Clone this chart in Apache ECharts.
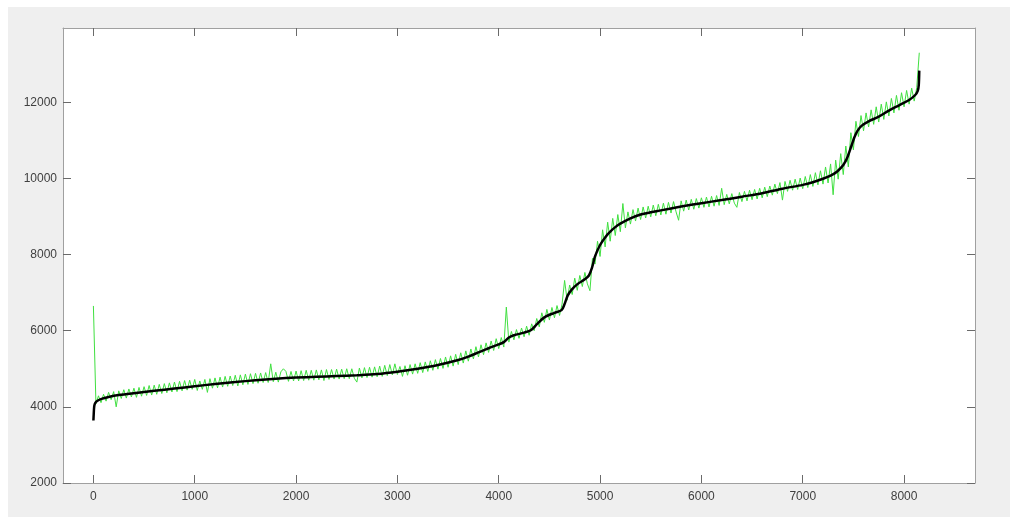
<!DOCTYPE html>
<html>
<head>
<meta charset="utf-8">
<script src="https://cdn.jsdelivr.net/npm/echarts@6/dist/echarts.min.js"></script>
<style>
  html, body { margin: 0; padding: 0; background: #ffffff; }
  #bg { position: absolute; left: 8px; top: 7px; width: 1002px; height: 510px; background: #efefef; }
  #chart { position: absolute; left: 0; top: 0; width: 1010px; height: 519px; }
</style>
</head>
<body>
<div id="bg"></div>
<div id="chart"></div>
<script>
// ---- data ----
const xTicks = [0, 1000, 2000, 3000, 4000, 5000, 6000, 7000, 8000];
const yTicks = [2000, 4000, 6000, 8000, 10000, 12000];

// smooth trend (black): [sample index, value]
const trendSeries = [
  [0,3640],[3,3800],[6,3950],[10,4040],[20,4110],[40,4160],[80,4210],[150,4260],[250,4310],
  [400,4360],[600,4420],[800,4480],[1000,4540],[1200,4600],[1400,4650],[1600,4700],[1800,4740],
  [2000,4770],[2200,4790],[2400,4810],[2600,4830],[2800,4860],[3000,4920],[3200,5000],[3400,5100],
  [3600,5230],[3700,5320],[3800,5430],[3900,5540],[4000,5640],[4050,5700],[4100,5820],[4150,5880],
  [4250,5950],[4320,6020],[4380,6180],[4450,6350],[4550,6470],[4620,6540],[4650,6700],[4680,6920],
  [4720,7080],[4780,7230],[4850,7350],[4890,7450],[4920,7650],[4950,7950],[5000,8250],[5050,8450],
  [5100,8600],[5150,8720],[5200,8810],[5300,8950],[5400,9050],[5500,9110],[5600,9160],[5800,9260],
  [6000,9350],[6200,9430],[6400,9520],[6600,9610],[6800,9730],[7000,9830],[7100,9900],[7200,9990],
  [7280,10080],[7340,10180],[7400,10350],[7440,10550],[7480,10850],[7510,11080],[7540,11250],
  [7580,11380],[7650,11500],[7750,11620],[7850,11780],[7950,11920],[8050,12060],[8110,12190],
  [8135,12300],[8145,12450],[8150,12830]
];

// raw measurements (green), one value every GREEN_STEP samples starting at 0
const GREEN_STEP = 25;
const rawValues = [
  // 0 - 1000
  6650,4080,4290,4110,4330,4150,4380,4190,4400,4000,4420,4220,4450,4230,4470,4260,4490,4250,4510,4280,
  4530,4300,4560,4310,4570,4330,4590,4350,4610,4370,4630,4390,4650,4400,4670,4420,4690,4440,4700,4460,
  4720,
  // 1025 - 2000
  4430,4680,4460,4720,4380,4740,4490,4760,4500,4780,4520,4800,4540,4810,4560,4830,4550,4840,4580,4860,
  4590,4870,4610,4880,4620,4890,4640,4900,4640,5130,4660,4910,4650,4920,5000,4930,4670,4930,4680,4940,
  // 2025 - 3000
  4680,4950,4690,4960,4700,4960,4700,4970,4710,4970,4690,4980,4720,4980,4730,4990,4730,4990,4740,5000,
  4740,5000,4750,4650,5020,4760,5030,4770,5040,4780,5050,4790,5070,4800,5090,4820,5110,4840,5130,4850,
  // 3025 - 4000
  5060,4800,5080,4830,5110,4860,5130,4880,5160,4900,5180,4930,5210,4960,5240,4990,5270,5010,5310,5040,
  5340,5070,5380,5110,5420,5150,5470,5200,5520,5260,5580,5310,5630,5370,5680,5430,5730,5480,5790,5530,
  // 4025 - 5000
  5820,5570,6620,5700,5980,5760,6030,5800,6070,5840,6120,5880,6180,6000,6320,6100,6470,6220,6560,6280,
  6610,6340,6660,6400,6700,7320,6800,7200,6950,7380,7060,7450,7160,7530,7230,7050,7900,7750,8350,7950,
  // 5025 - 6000
  8650,8200,8850,8350,8950,8500,9050,8600,9340,8700,9120,8800,9180,8880,9220,8920,9250,8960,9270,8990,
  9300,9020,9320,9040,9350,9060,9370,9090,9390,9120,8900,9410,9140,9430,9170,9450,9190,9470,9220,9490,
  // 6025 - 7000
  9240,9510,9250,9530,9270,9550,9290,9740,9310,9580,9330,9600,9350,9240,9630,9390,9660,9410,9690,9440,
  9710,9460,9740,9490,9770,9520,9800,9560,9850,9600,9890,9430,9920,9660,9950,9690,9980,9710,10010,9730,
  // 7025 - 8000
  10050,9760,10100,9790,10150,9830,10200,9850,10300,9880,10380,9570,10480,9980,10650,10100,10850,10300,11200,10750,
  11500,11100,11650,11250,11720,11350,11800,11420,11880,11480,11950,11550,12010,11640,12100,11720,12180,11790,12250,11880,
  // 8025 - 8150
  12310,11950,12370,12030,12380,13300
];

// ---- build ----
const rawSeries = rawValues.map((v, i) => [i * GREEN_STEP, v]);

const X_MIN = -300, X_MAX = 8700, Y_MIN = 2000, Y_MAX = 13950;
const axisLineColor = '#a0a0a0';
const tickColor = '#6a6a6a';
const labelColor = '#404040';
const plainNum = v => String(v);

function xAx(pos, showLabel) {
  return {
    type: 'value', position: pos, min: X_MIN, max: X_MAX,
    axisLine: { show: true, onZero: false, lineStyle: { color: axisLineColor, width: 1 } },
    axisTick: { show: true, inside: true, length: 8, customValues: xTicks, lineStyle: { color: tickColor } },
    axisLabel: { show: showLabel, customValues: xTicks, formatter: plainNum, color: labelColor, fontSize: 12,
                 fontFamily: 'Liberation Sans, Arial, sans-serif', margin: 8 },
    splitLine: { show: false }
  };
}
function yAx(pos, showLabel) {
  return {
    type: 'value', position: pos, min: Y_MIN, max: Y_MAX,
    axisLine: { show: true, onZero: false, lineStyle: { color: axisLineColor, width: 1 } },
    axisTick: { show: true, inside: true, length: 8, customValues: yTicks, lineStyle: { color: tickColor } },
    axisLabel: { show: showLabel, customValues: yTicks, formatter: plainNum, color: labelColor, fontSize: 12,
                 fontFamily: 'Liberation Sans, Arial, sans-serif', margin: 6 },
    splitLine: { show: false }
  };
}

const chart = echarts.init(document.getElementById('chart'), null, { renderer: 'canvas' });
chart.setOption({
  animation: false,
  backgroundColor: 'transparent',
  grid: { left: 63, right: 35, top: 28, bottom: 36, show: true, backgroundColor: '#ffffff', borderWidth: 0 },
  xAxis: [xAx('bottom', true), xAx('top', false)],
  yAxis: [yAx('left', true), yAx('right', false)],
  series: [
    { type: 'line', xAxisIndex: 0, yAxisIndex: 0, data: rawSeries, showSymbol: false,
      lineStyle: { color: '#40e040', width: 1 }, z: 2 },
    { type: 'line', xAxisIndex: 0, yAxisIndex: 0, data: trendSeries, showSymbol: false, smooth: 0.3,
      lineStyle: { color: '#000000', width: 2.5 }, z: 3 }
  ]
});
</script>
</body>
</html>
